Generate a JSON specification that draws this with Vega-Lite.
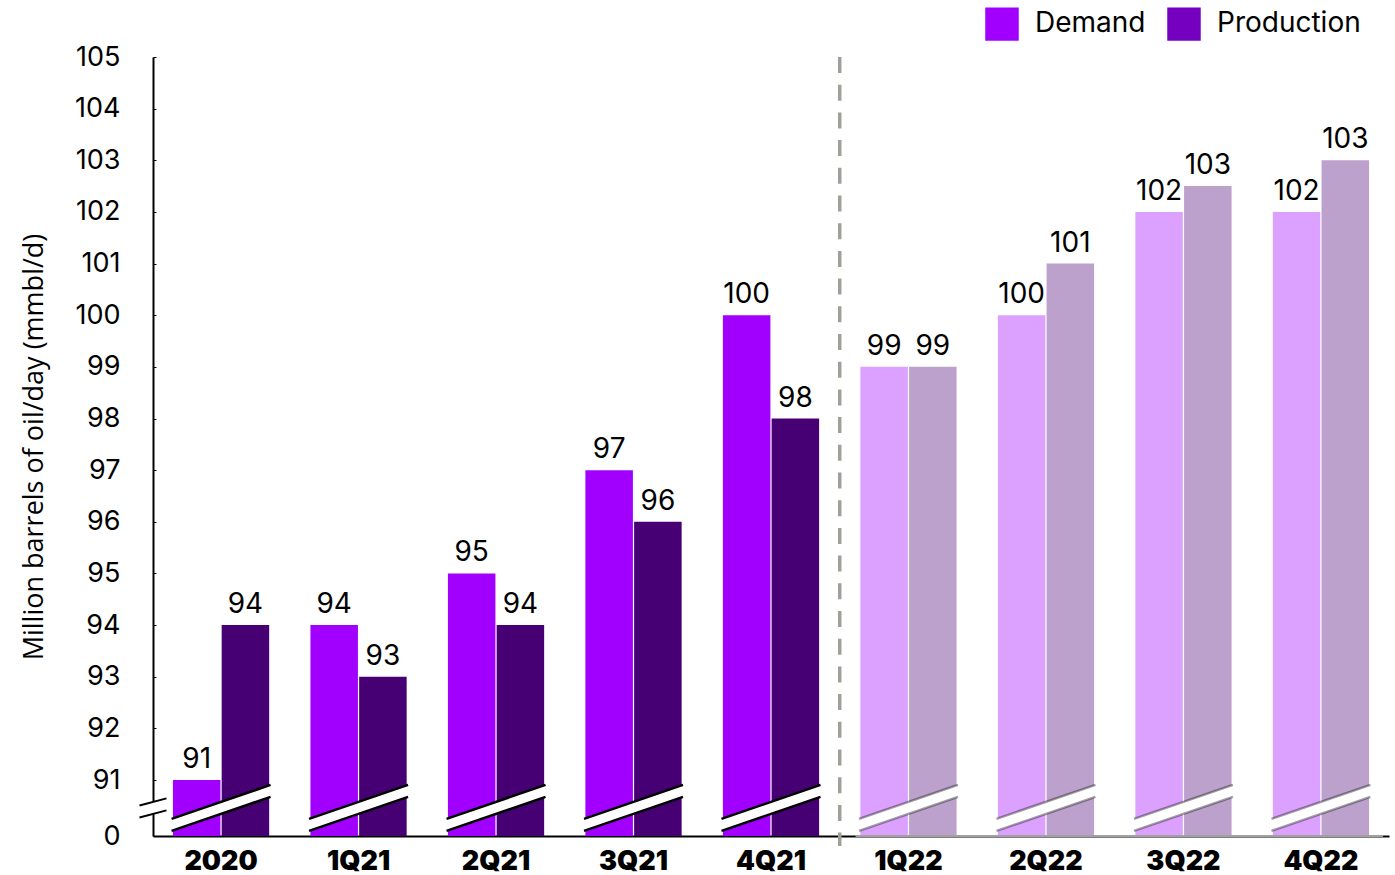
{
  "$schema": "https://vega.github.io/schema/vega-lite/v6.json",
  "width": 1236,
  "height": 779,
  "autosize": {"type": "none"},
  "padding": {"left": 153, "top": 57, "right": 6, "bottom": 39},
  "background": "white",
  "config": {"view": {"stroke": null}, "font": "Inter"},
  "data": {
    "values": [
      {"quarter": "2020", "series": "Demand", "value": 91, "label": "91", "period": "Actual"},
      {"quarter": "2020", "series": "Production", "value": 94, "label": "94", "period": "Actual"},
      {"quarter": "1Q21", "series": "Demand", "value": 94, "label": "94", "period": "Actual"},
      {"quarter": "1Q21", "series": "Production", "value": 93, "label": "93", "period": "Actual"},
      {"quarter": "2Q21", "series": "Demand", "value": 95, "label": "95", "period": "Actual"},
      {"quarter": "2Q21", "series": "Production", "value": 94, "label": "94", "period": "Actual"},
      {"quarter": "3Q21", "series": "Demand", "value": 97, "label": "97", "period": "Actual"},
      {"quarter": "3Q21", "series": "Production", "value": 96, "label": "96", "period": "Actual"},
      {"quarter": "4Q21", "series": "Demand", "value": 100, "label": "100", "period": "Actual"},
      {"quarter": "4Q21", "series": "Production", "value": 98, "label": "98", "period": "Actual"},
      {"quarter": "1Q22", "series": "Demand", "value": 99, "label": "99", "period": "Forecast"},
      {"quarter": "1Q22", "series": "Production", "value": 99, "label": "99", "period": "Forecast"},
      {"quarter": "2Q22", "series": "Demand", "value": 100, "label": "100", "period": "Forecast"},
      {"quarter": "2Q22", "series": "Production", "value": 101, "label": "101", "period": "Forecast"},
      {"quarter": "3Q22", "series": "Demand", "value": 102, "label": "102", "period": "Forecast"},
      {"quarter": "3Q22", "series": "Production", "value": 102.5, "label": "103", "period": "Forecast"},
      {"quarter": "4Q22", "series": "Demand", "value": 102, "label": "102", "period": "Forecast"},
      {"quarter": "4Q22", "series": "Production", "value": 103, "label": "103", "period": "Forecast"}
    ]
  },
  "resolve": {"scale": {"color": "independent"}},
  "layer": [
    {
      "mark": {"type": "bar"},
      "encoding": {
        "x": {
          "field": "quarter", "type": "nominal",
          "scale": {"domain": ["2020", "1Q21", "2Q21", "3Q21", "4Q21", "1Q22", "2Q22", "3Q22", "4Q22"], "paddingInner": 0.3, "paddingOuter": 0.145},
          "axis": {"title": null, "labelAngle": 0, "labelFontSize": 27, "labelFontWeight": 900, "labelColor": "black", "ticks": false, "domainColor": "black", "domainWidth": 2, "labelPadding": 12}
        },
        "xOffset": {"field": "series", "type": "nominal", "scale": {"paddingInner": 0.025, "paddingOuter": 0}},
        "y": {
          "field": "value", "type": "quantitative",
          "scale": {"domain": [89.916, 105], "zero": false, "nice": false},
          "axis": {
            "title": "Million barrels of oil/day (mmbl/d)",
            "values": [89.916, 91, 92, 93, 94, 95, 96, 97, 98, 99, 100, 101, 102, 103, 104, 105],
            "format": ".0f",
            "labelExpr": "datum.value < 90 ? '0' : datum.label",
            "grid": false, "domainColor": "black", "domainWidth": 2,
            "tickSize": -3, "tickColor": "black", "tickWidth": 1,
            "labelFontSize": 27, "labelColor": "black", "labelPadding": 36,
            "titleFont": "Open Sans", "titleFontSize": 27, "titleFontWeight": "normal", "titleColor": "black", "titlePadding": 26
          }
        },
        "y2": {"datum": 89.916},
        "fill": {"field": "series", "type": "nominal", "scale": {"domain": ["Demand", "Production"], "range": ["#A100FF", "#460073"]}, "legend": null},
        "opacity": {"field": "period", "type": "nominal", "scale": {"domain": ["Actual", "Forecast"], "range": [1, 0.37]}, "legend": null}
      }
    },
    {
      "transform": [{"filter": "datum.series == 'Demand'"}],
      "mark": {"type": "point", "shape": "M-1,0.222L1,-0.465L1,-0.222L-1,0.465Z", "size": 9801, "filled": true, "fill": "white", "strokeWidth": 0, "opacity": 1},
      "encoding": {
        "x": {"field": "quarter", "type": "nominal"},
        "y": {"datum": 90.46}
      }
    },
    {
      "transform": [{"filter": "datum.series == 'Demand'"}],
      "mark": {"type": "point", "shape": "M-1,0.222L1,-0.465M-1,0.465L1,-0.222", "size": 9801, "filled": false, "stroke": "black", "strokeWidth": 2.5},
      "encoding": {
        "x": {"field": "quarter", "type": "nominal"},
        "y": {"datum": 90.46},
        "opacity": {"field": "period", "type": "nominal", "legend": null}
      }
    },
    {
      "data": {"values": [{"element": "axis break"}]},
      "mark": {"type": "point", "shape": "M-1,-0.185L1,-0.704L1,0.185L-1,0.704Z", "size": 729, "filled": true, "fill": "white", "strokeWidth": 0, "opacity": 1},
      "encoding": {
        "x": {"datum": "2020", "bandPosition": -0.2071},
        "y": {"datum": 90.46}
      }
    },
    {
      "data": {"values": [{"element": "axis break"}]},
      "mark": {"type": "point", "shape": "M-1,-0.185L1,-0.704M-1,0.704L1,0.185", "size": 729, "filled": false, "stroke": "black", "strokeWidth": 2, "opacity": 1},
      "encoding": {
        "x": {"datum": "2020", "bandPosition": -0.2071},
        "y": {"datum": 90.46}
      }
    },
    {
      "data": {"values": [{"element": "forecast axis"}]},
      "mark": {"type": "rule", "color": "#A1A1A1", "strokeWidth": 2},
      "encoding": {
        "x": {"datum": "1Q22", "bandPosition": -0.05},
        "x2": {"datum": "4Q22", "bandPosition": 1.146},
        "y": {"datum": 89.916}
      }
    },
    {
      "data": {"values": [{"element": "forecast divider"}]},
      "mark": {"type": "rule", "color": "#A0A09A", "strokeWidth": 3.5, "strokeDash": [16, 11.7]},
      "encoding": {
        "x": {"datum": "1Q22", "bandPosition": -0.2143},
        "y": {"datum": 105},
        "y2": {"datum": 89.72}
      }
    },
    {
      "mark": {"type": "text", "fontSize": 28, "font": "Inter", "color": "black", "baseline": "alphabetic", "dy": -12},
      "encoding": {
        "x": {"field": "quarter", "type": "nominal"},
        "xOffset": {"field": "series", "type": "nominal"},
        "y": {"field": "value", "type": "quantitative"},
        "text": {"field": "label", "type": "nominal"}
      }
    },
    {
      "mark": {"type": "square", "opacity": 0},
      "encoding": {
        "x": {"field": "quarter", "type": "nominal"},
        "y": {"field": "value", "type": "quantitative"},
        "color": {
          "field": "series", "type": "nominal",
          "scale": {"domain": ["Demand", "Production"], "range": ["#A100FF", "#7500C0"]},
          "legend": {"title": null, "orient": "none", "legendX": 832, "legendY": -50, "direction": "horizontal", "symbolType": "square", "symbolSize": 1122, "symbolOpacity": 1, "symbolStrokeWidth": 0, "labelFontSize": 28, "labelFont": "Inter", "labelColor": "black", "labelOffset": 16, "columnPadding": 21, "padding": 0}
        }
      }
    }
  ]
}
